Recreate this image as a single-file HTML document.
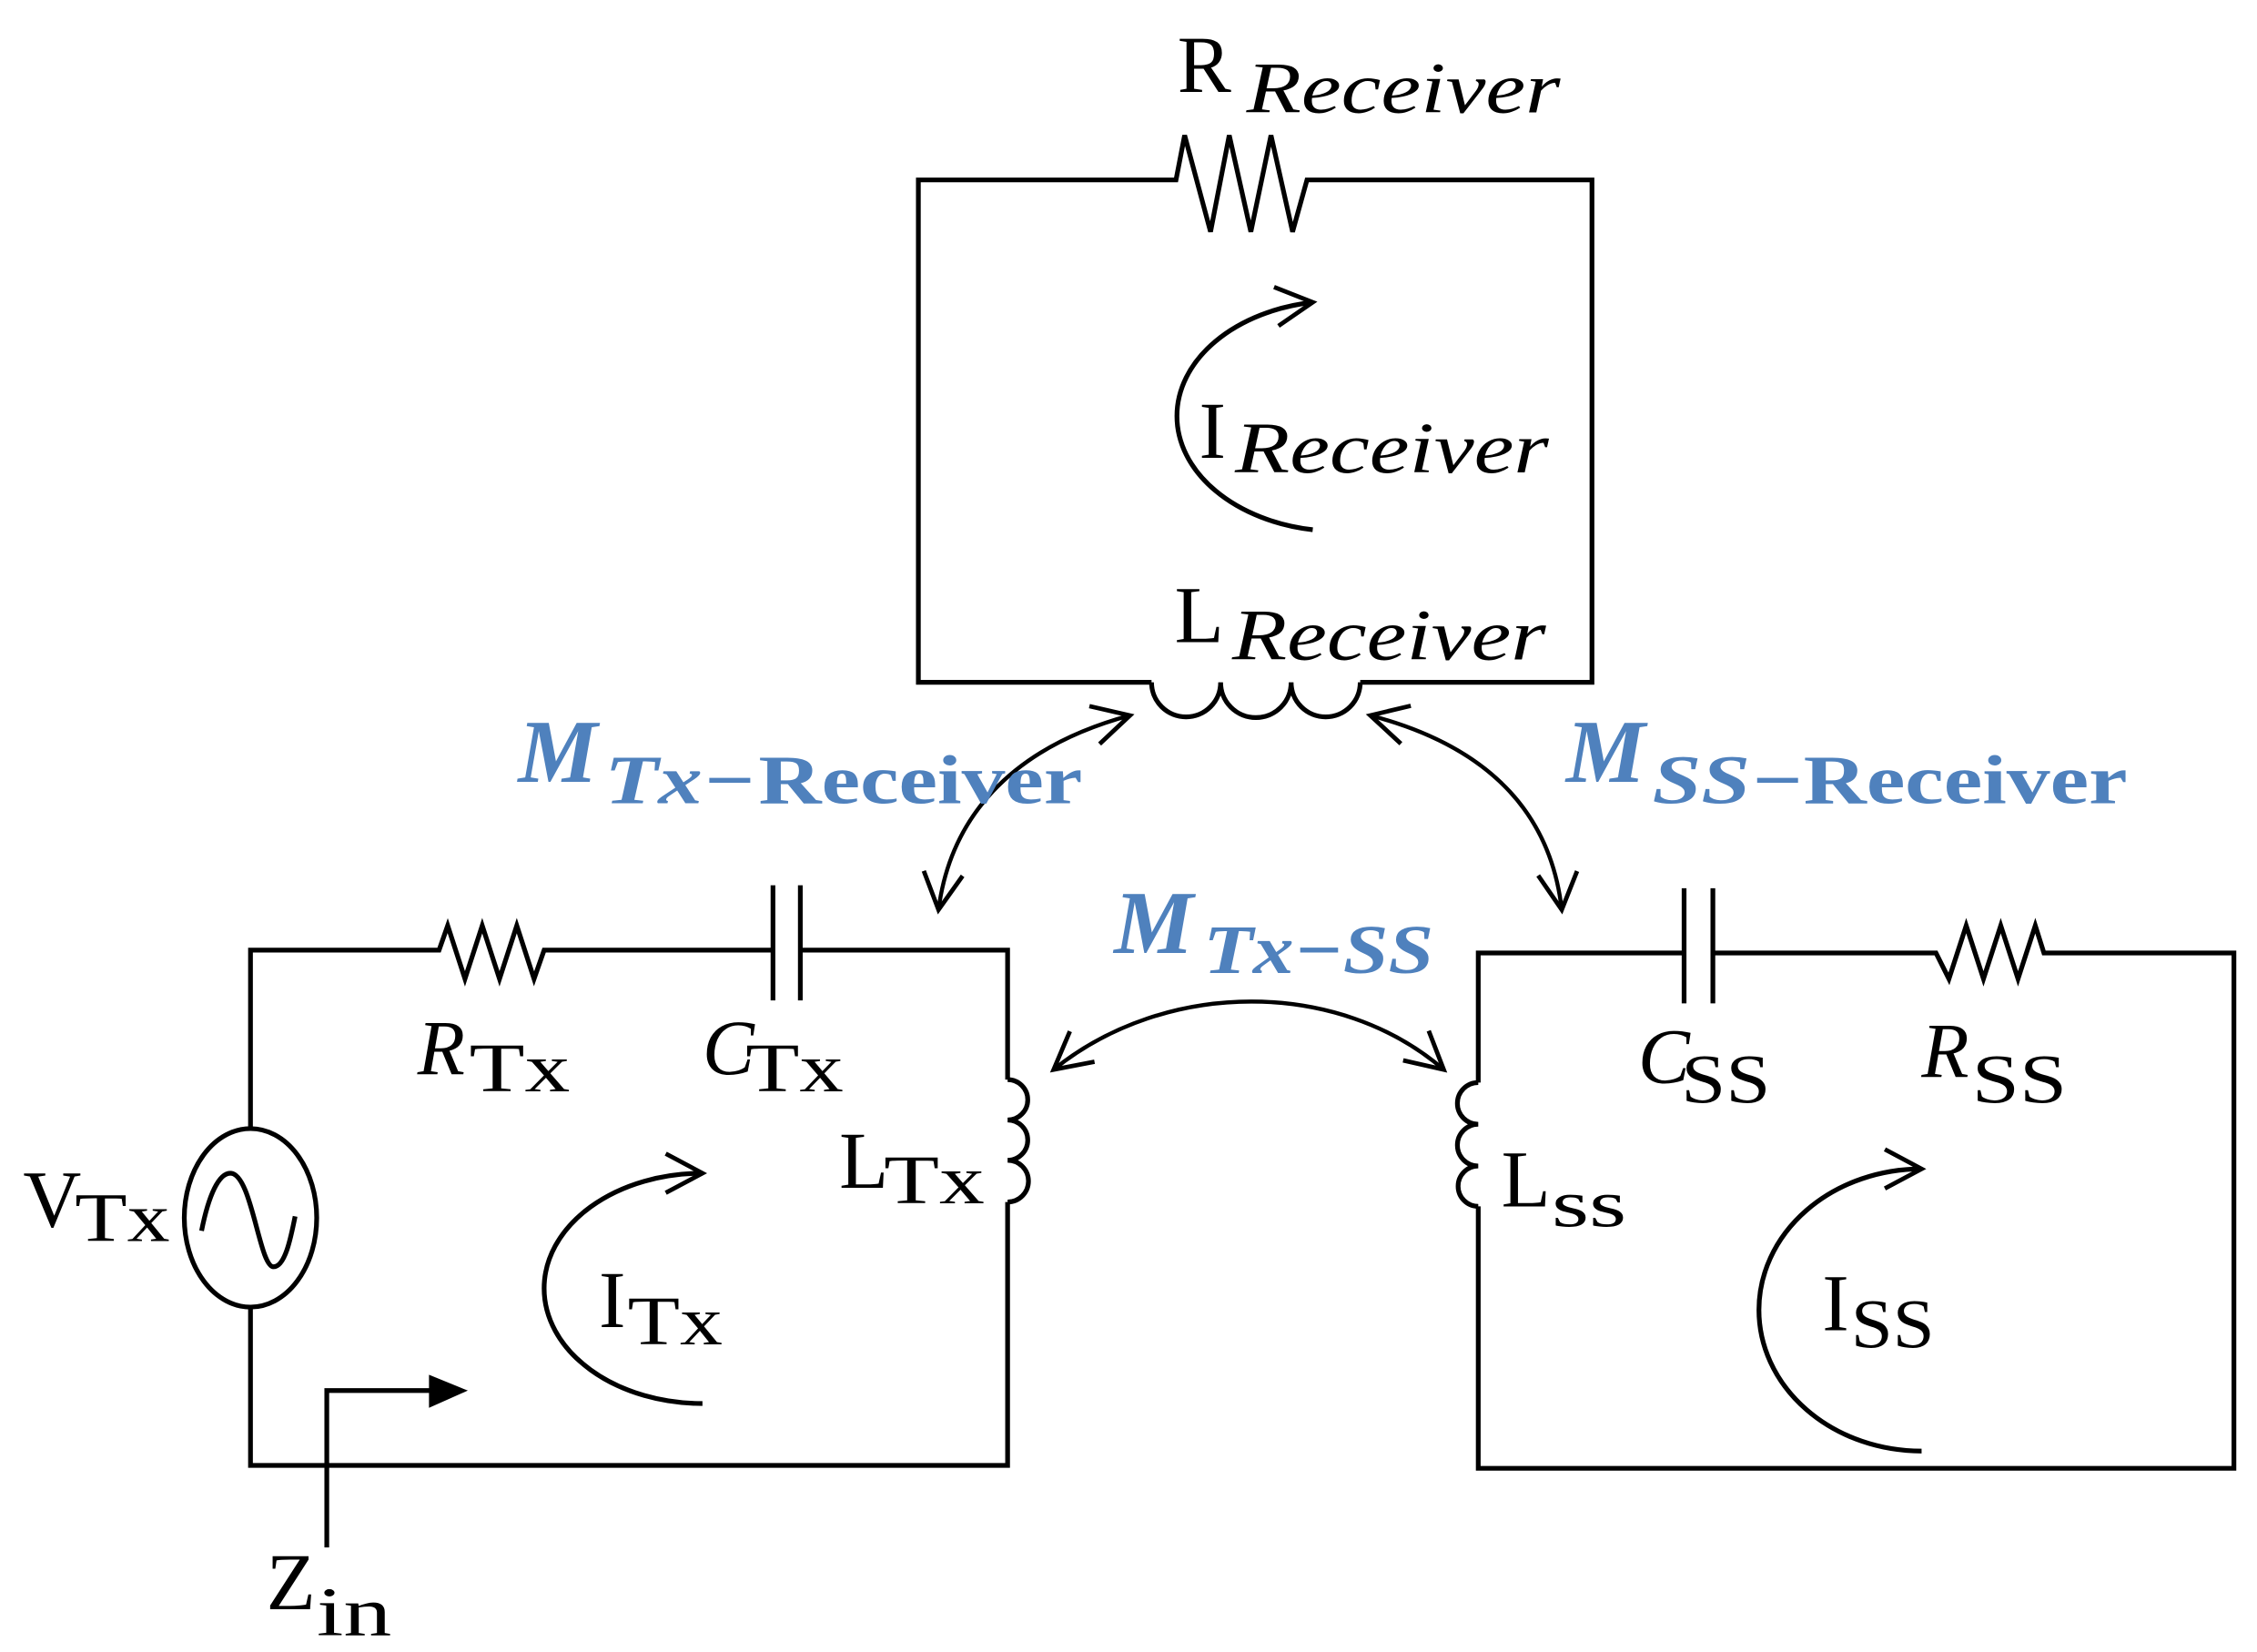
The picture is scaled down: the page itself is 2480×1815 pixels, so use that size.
<!DOCTYPE html>
<html><head><meta charset="utf-8"><style>
html,body{margin:0;padding:0;background:#fff}
svg{display:block}
text{font-family:"Liberation Serif",serif;fill:#000}
.b{fill:#4f81bd;font-weight:bold}
</style></head><body>
<svg width="2480" height="1815" viewBox="0 0 1568 1147.6" xmlns="http://www.w3.org/2000/svg">
<defs>
<marker id="ah2" viewBox="0 0 20 20" refX="18" refY="10" markerWidth="34" markerHeight="34" markerUnits="userSpaceOnUse" orient="auto-start-reverse">
<path d="M3,2 L18,10 L3,18" fill="none" stroke="#000" stroke-width="1.8"/>
</marker>
</defs>
<g fill="none" stroke="#000" stroke-width="3.3" stroke-linejoin="miter">
<polyline points="800,474 638,474 638,125 817,125 823,94 841,161 854,94 869,161 883,94 898,161 908,125 1106,125 1106,474 945,474"/>
<path d="M800,474 A24,24 0 0 0 848,474 A24,24 0 0 0 897,474 A24,24 0 0 0 945,474"/>
<path d="M912,368 A112,80 0 0 1 912,210" marker-end="url(#ah2)"/>
<polyline points="174,784 174,660 305,660 311,643 323,680 335,643 347,680 359,643 371,680 378,660 537,660"/>
<line x1="537" y1="615" x2="537" y2="695"/>
<line x1="556" y1="615" x2="556" y2="695"/>
<polyline points="556,660 700,660 700,750"/>
<path d="M700,750 A14,14 0 0 1 700,778 A14,14 0 0 1 700,806 A14,14 0 0 1 700,835"/>
<polyline points="700,835 700,1018 174,1018 174,908"/>
<ellipse cx="174" cy="846" rx="46" ry="62"/>
<path d="M140,855 C145,830 152,815 160,815 C175,815 180,880 190,880 C198,880 202,860 205,845"/>
<path d="M488,975 A110,80 0 0 1 488,815" marker-end="url(#ah2)"/>
<polyline points="227,1075 227,966 300,966"/>
<polyline points="1170,662 1027,662 1027,752"/>
<path d="M1027,752 A14,14 0 0 0 1027,781 A14,14 0 0 0 1027,810 A14,14 0 0 0 1027,838"/>
<polyline points="1027,838 1027,1020 1552,1020 1552,662 1420,662 1414,643 1402,680 1390,643 1378,680 1366,643 1354,680 1345,662 1190,662"/>
<line x1="1170" y1="617" x2="1170" y2="697"/>
<line x1="1190" y1="617" x2="1190" y2="697"/>
<path d="M1335,1008 A113,98 0 0 1 1335,812" marker-end="url(#ah2)"/>
<path d="M785,497 C700,520 660,570 652,632" marker-start="url(#ah2)" marker-end="url(#ah2)" stroke-width="2.8"/>
<path d="M952,497 C1040,520 1078,570 1085,632" marker-start="url(#ah2)" marker-end="url(#ah2)" stroke-width="2.8"/>
<path d="M732,743 C810,680 930,680 1003,743" marker-start="url(#ah2)" marker-end="url(#ah2)" stroke-width="2.8"/>
</g>
<polygon points="298,955 325,966 298,978" fill="#000"/>
<text x="818" y="64" font-size="56">R</text>
<text x="866" y="78" font-size="50" font-style="italic" textLength="218" lengthAdjust="spacingAndGlyphs">Receiver</text>
<text x="833" y="318" font-size="56">I</text>
<text x="858" y="328" font-size="50" font-style="italic" textLength="218" lengthAdjust="spacingAndGlyphs">Receiver</text>
<text x="816" y="446" font-size="56">L</text>
<text x="856" y="458" font-size="50" font-style="italic" textLength="218" lengthAdjust="spacingAndGlyphs">Receiver</text>
<text x="290" y="746" font-size="54" font-style="italic">R</text>
<text x="326" y="758" font-size="48" textLength="70" lengthAdjust="spacingAndGlyphs">Tx</text>
<text x="488" y="746" font-size="54" font-style="italic">C</text>
<text x="518" y="758" font-size="48" textLength="68" lengthAdjust="spacingAndGlyphs">Tx</text>
<text x="583" y="825" font-size="56">L</text>
<text x="614" y="836" font-size="48" textLength="70" lengthAdjust="spacingAndGlyphs">Tx</text>
<text x="16" y="852" font-size="56">V</text>
<text x="52" y="862" font-size="48" textLength="66" lengthAdjust="spacingAndGlyphs">Tx</text>
<text x="416" y="922" font-size="56">I</text>
<text x="436" y="934" font-size="48" textLength="66" lengthAdjust="spacingAndGlyphs">Tx</text>
<text x="185" y="1118" font-size="56">Z</text>
<text x="220" y="1136" font-size="48" textLength="52" lengthAdjust="spacingAndGlyphs">in</text>
<text x="1138" y="752" font-size="54" font-style="italic">C</text>
<text x="1168" y="766" font-size="48" textLength="62" lengthAdjust="spacingAndGlyphs">SS</text>
<text x="1335" y="748" font-size="54" font-style="italic">R</text>
<text x="1370" y="766" font-size="48" textLength="66" lengthAdjust="spacingAndGlyphs">SS</text>
<text x="1043" y="838" font-size="56">L</text>
<text x="1078" y="852" font-size="46" textLength="52" lengthAdjust="spacingAndGlyphs">ss</text>
<text x="1266" y="924" font-size="56">I</text>
<text x="1286" y="936" font-size="48" textLength="58" lengthAdjust="spacingAndGlyphs">SS</text>
<text class="b" x="360" y="543" font-size="62" font-style="italic">M</text>
<text class="b" x="420" y="558" font-size="48" font-style="italic" textLength="105" lengthAdjust="spacingAndGlyphs">Tx−</text>
<text class="b" x="527" y="558" font-size="48" textLength="225" lengthAdjust="spacingAndGlyphs">Receiver</text>
<text class="b" x="1088" y="543" font-size="62" font-style="italic">M</text>
<text class="b" x="1148" y="558" font-size="48" font-style="italic" textLength="105" lengthAdjust="spacingAndGlyphs">SS−</text>
<text class="b" x="1253" y="558" font-size="48" textLength="225" lengthAdjust="spacingAndGlyphs">Receiver</text>
<text class="b" x="774" y="662" font-size="62" font-style="italic">M</text>
<text class="b" x="836" y="676" font-size="48" font-style="italic" textLength="160" lengthAdjust="spacingAndGlyphs">Tx−SS</text>
</svg>
</body></html>
